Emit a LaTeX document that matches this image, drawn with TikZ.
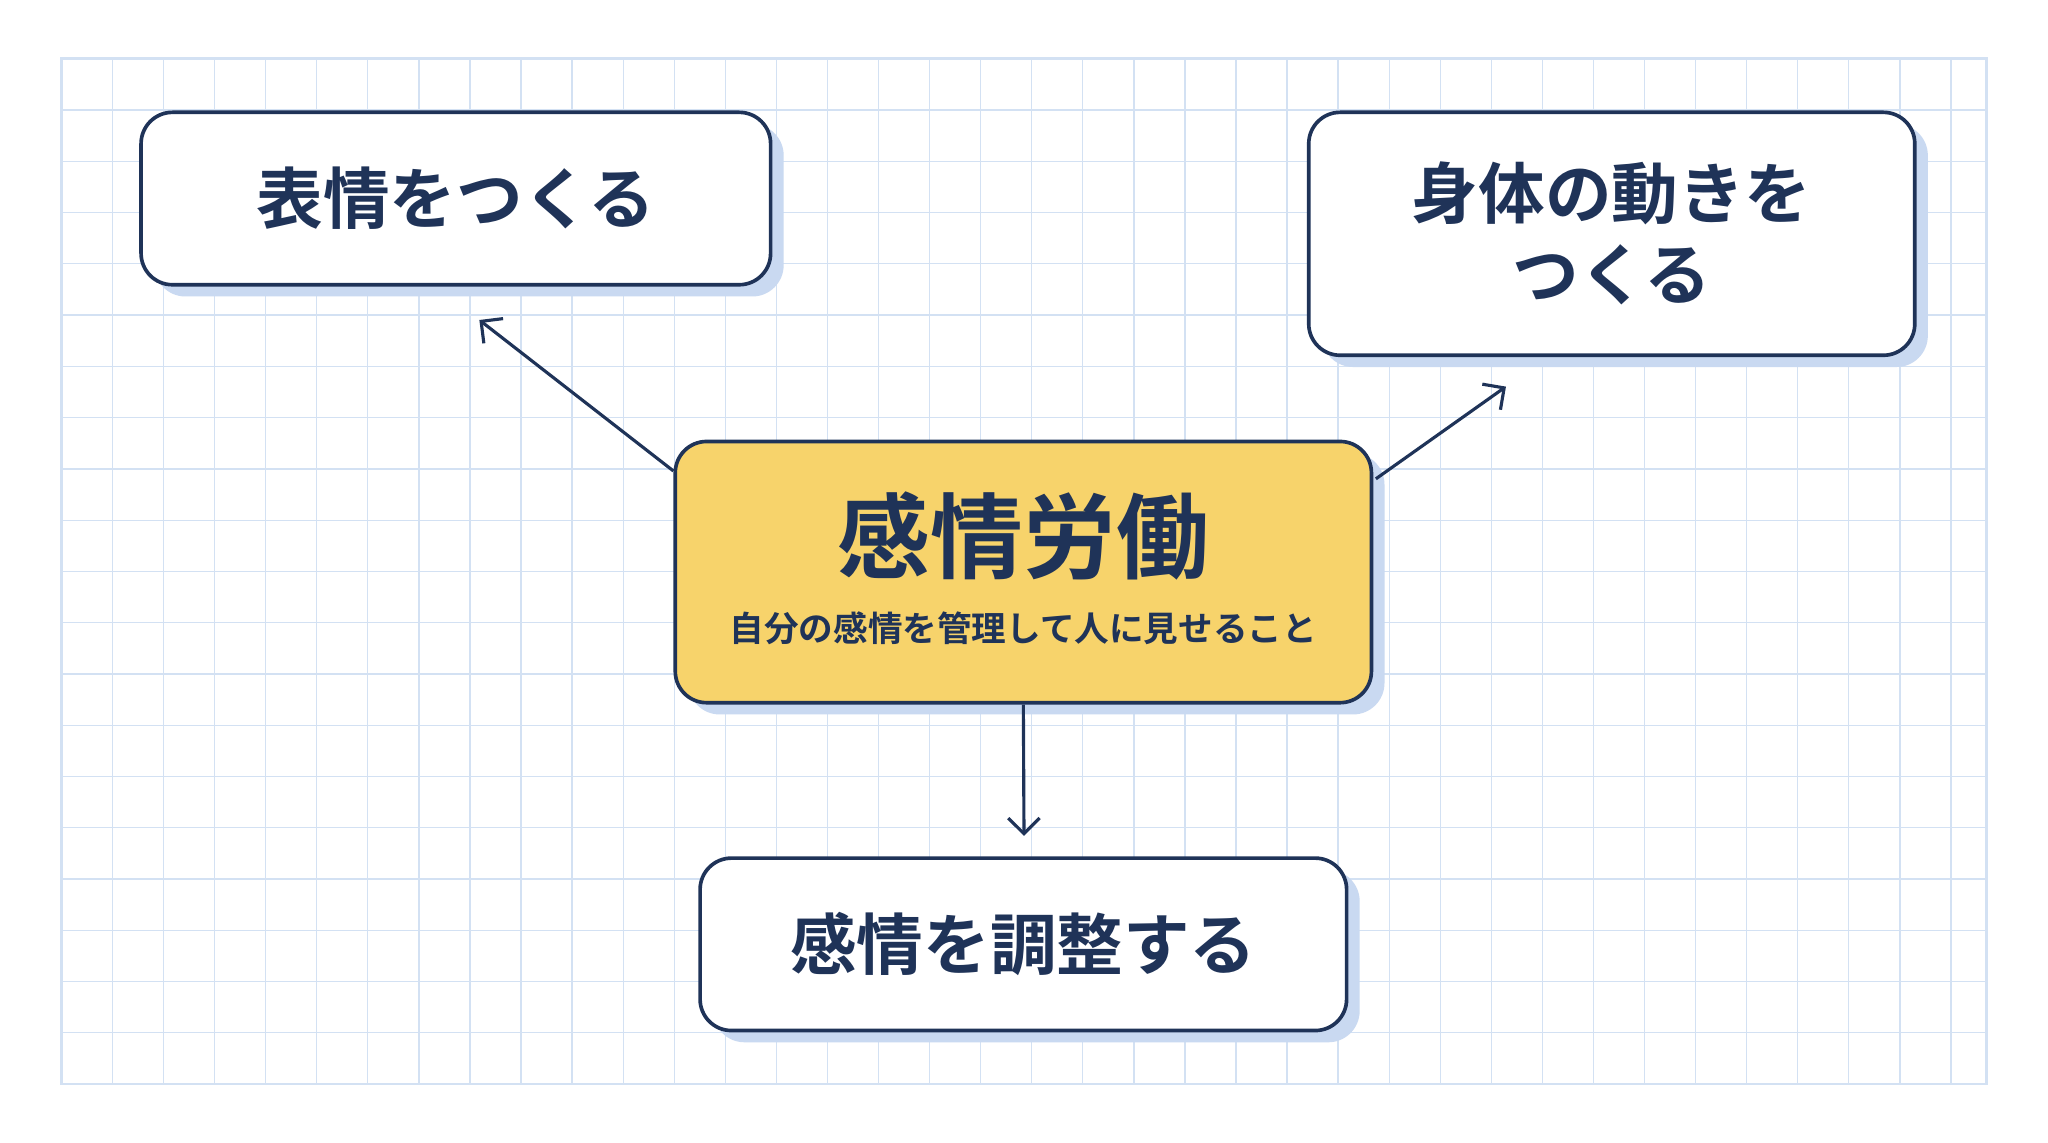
\documentclass[tikz,border=0pt]{standalone}
\usetikzlibrary{arrows.meta}
\usepackage{fontspec}
\newfontfamily\cjk{Noto Sans CJK JP Bold}
\definecolor{navy}{HTML}{1F3358}
\definecolor{gridc}{HTML}{D3E1F3}
\definecolor{shad}{HTML}{C9D9F1}
\definecolor{yel}{HTML}{F7D36B}
\begin{document}
\begin{tikzpicture}[x=1pt,y=-1pt,
  box/.style={draw=navy,line width=2.8pt,rounded corners=24pt,fill=white,align=center,text=navy,font=\cjk\fontsize{51}{62}\selectfont},
  arr/.style={draw=navy,line width=2.4pt,-{Straight Barb[length=12pt,width=24pt]}}]
\useasboundingbox (0,0) rectangle (1568,875);
\fill[white] (0,0) rectangle (1568,875);
\foreach \x in {47,86.1,...,1521}{\draw[gridc,line width=1pt] (\x,45)--(\x,830);}
\foreach \y in {45,84.25,...,831}{\draw[gridc,line width=1pt] (47,\y)--(1521,\y);}
\draw[gridc,line width=2pt] (47,45) rectangle (1521,830);
% shadows
\foreach \a/\b/\c/\d in {108/86/590/218, 1002/86/1466/272, 517/338/1050/538, 536/657/1031/789}
  {\fill[shad,rounded corners=24pt] (\a+10,\b+9) rectangle (\c+10,\d+9);}
\node[box,minimum width=482pt,minimum height=132pt] (a) at (349,152) {表情をつくる};
\node[box,minimum width=464pt,minimum height=186pt] (b) at (1234,179) {身体の動きを\\つくる};
\node[box,fill=yel,minimum width=533pt,minimum height=200pt] (c) at (783.5,438) {};
\node[text=navy,font=\cjk\fontsize{71}{76}\selectfont] (t) at (783.5,410) {感情労働};
\node[text=navy,font=\cjk\fontsize{26.5}{30}\selectfont] (s) at (783.5,481) {自分の感情を管理して人に見せること};
\node[box,minimum width=495pt,minimum height=132pt] (d) at (783.5,723) {感情を調整する};
\coordinate (a1) at (367,245);
\coordinate (b1) at (1153,296);
\coordinate (d1) at (784,640);
\draw[arr] ([yshift=-24pt]c.north west) -- (a1);
\draw[arr] ([yshift=-30pt,xshift=2pt]c.north east) -- (b1);
\draw[arr] (c.south) -- (d1);
\end{tikzpicture}
\end{document}
